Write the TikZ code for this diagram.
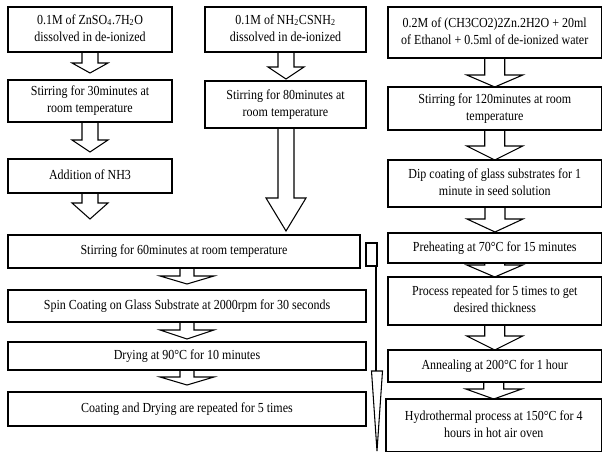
\documentclass[tikz,border=0pt]{standalone}
\usepackage{fontspec}
\setmainfont{Liberation Serif}
\usetikzlibrary{calc}
\newcommand\T[1]{\scalebox{1}[1.15]{\begin{tabular}{@{}c@{}}#1\end{tabular}}}
\tikzset{
 box/.style={draw, line width=0.9pt, inner sep=0pt, outer sep=0pt, font=\fontsize{9}{11}\selectfont},
 blk/.style={draw, line width=0.8pt, line join=miter},
}
\newcommand\bx[6]{\node[box, minimum width={(#4-#2)*0.75pt}, minimum height={(#5-#3)*0.75pt}] (#1) at ({(#2+#4)/2},{(#3+#5)/2}) {\T{#6}};}
% from node #1, tip coordinate #2, shaft half #3, head half #4, head length #5 (px)
\newcommand\barrow[5]{%
 \draw[blk] let \p1=(#1.south), \p2=(#2) in
 (\x2-#3*0.75pt,\y1) -- (\x2-#3*0.75pt,\y2+#5*0.75pt) -- (\x2-#4*0.75pt,\y2+#5*0.75pt) -- (\x2,\y2) -- (\x2+#4*0.75pt,\y2+#5*0.75pt) -- (\x2+#3*0.75pt,\y2+#5*0.75pt) -- (\x2+#3*0.75pt,\y1);}
\begin{document}
\begin{tikzpicture}[x=0.75pt,y=-0.75pt]
\useasboundingbox (0,0) rectangle (603,453);
\bx{A1}{8}{7}{172}{52}{0.1M of ZnSO\textsubscript{4}.7H\textsubscript{2}O\\dissolved in de-ionized}
\bx{A2}{8}{80}{172}{122}{Stirring for 30minutes at\\room temperature}
\bx{A3}{8}{159}{172}{193}{Addition of NH3}
\bx{B1}{205}{7}{366}{52}{0.1M of NH\textsubscript{2}CSNH\textsubscript{2}\\dissolved in de-ionized}
\bx{B2}{205}{81}{366}{128}{Stirring for 80minutes at\\room temperature}
\bx{C1}{388}{7}{601.5}{58}{0.2M of (CH3CO2)2Zn.2H2O + 20ml\\of Ethanol + 0.5ml of de-ionized water}
\bx{C2}{388}{87}{601.5}{130}{Stirring for 120minutes at room\\temperature}
\bx{C3}{388}{160}{601.5}{207}{Dip coating of glass substrates for 1\\minute in seed solution}
\bx{C4}{388}{233}{601.5}{263}{Preheating at 70°C for 15 minutes}
\bx{C5}{388}{277}{601.5}{325}{Process repeated for 5 times to get\\desired thickness}
\bx{C6}{388}{350}{601.5}{382}{Annealing at 200°C for 1 hour}
\bx{C7}{386}{399}{601.5}{451.5}{Hydrothermal process at 150°C for 4\\hours in hot air oven}
\bx{D1}{8}{235}{360}{268}{Stirring for 60minutes at room temperature}
\bx{D2}{8}{290}{366}{322}{Spin Coating on Glass Substrate at 2000rpm for 30 seconds}
\bx{D3}{8}{342}{366}{370}{Drying at 90°C for 10 minutes}
\bx{D4}{8}{392}{366}{426}{Coating and Drying are repeated for 5 times}
\coordinate (tA1) at (90,73);
\coordinate (tA2) at (90,152);
\coordinate (tA3) at (90,219);
\coordinate (tB1) at (286,79);
\coordinate (tB2) at (286,231);
\coordinate (tC3) at (495,232);
\coordinate (tD1) at (187,284);
\coordinate (tD2) at (187,339);
\coordinate (tD3) at (187,385);
\barrow{A1}{tA1}{8}{18}{10}
\barrow{A2}{tA2}{8}{18}{12}
\barrow{A3}{tA3}{8}{18}{16}
\barrow{B1}{tB1}{8}{18}{12}
\barrow{B2}{tB2}{8}{20}{33}
\barrow{C1}{C2.north}{10}{28}{12}
\barrow{C2}{C3.north}{10}{28}{14}
\barrow{C3}{tC3}{10}{28}{13}
\barrow{C4}{C5.north}{10}{28}{12}
\barrow{C5}{C6.north}{10}{28}{14}
\barrow{C6}{C7.north}{10}{28}{10}
\barrow{D1}{tD1}{7}{27}{8}
\barrow{D2}{tD2}{7}{27}{9}
\barrow{D3}{tD3}{7}{27}{8}
% long thin arrow
\draw[line width=0.8pt] (366,243) rectangle (377,266);
\draw[line width=1.6pt] (376.3,266) -- (376.3,371);
\draw[line width=0.8pt, line join=miter] (371.5,371) -- (377,451) -- (382.5,371) -- cycle;
\end{tikzpicture}
\end{document}
